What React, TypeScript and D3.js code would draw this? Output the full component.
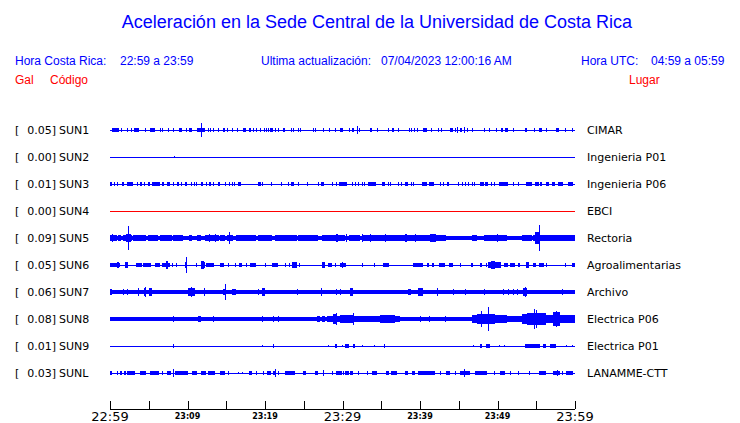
import React from "react";
import * as d3 from "d3";

const W = 740;
const H = 423;

const codes = ["SUN1", "SUN2", "SUN3", "SUN4", "SUN5", "SUN6", "SUN7", "SUN8", "SUN9", "SUNL"];
const peaks = ["0.05", "0.00", "0.01", "0.00", "0.09", "0.05", "0.06", "0.08", "0.01", "0.03"];
const places = ["CIMAR", "Ingenieria P01", "Ingenieria P06", "EBCI", "Rectoria", "Agroalimentarias", "Archivo", "Electrica P06", "Electrica P01", "LANAMME-CTT"];
const traceColors = ["#0000ff", "#0000ff", "#0000ff", "#ff0000", "#0000ff", "#0000ff", "#0000ff", "#0000ff", "#0000ff", "#0000ff"];
// steady background amplitude of each trace (Gal)
const baseLevels = [0, 0, 0, 0, 0.013, 0, 0.013, 0.012, 0, 0];

// bursts: [start minute, end minute, amplitude Gal], minutes after 22:59
const sun1: number[][] = [[0.3,1.1,.011],[1.4,1.4,.008],[2.15,2.15,.008],[2.65,2.65,.008],[3.05,3.8,.011],[4.5,4.5,.008],[5.15,5.8,.012],[6.45,6.45,.008],[6.75,6.75,.008],[7.5,7.5,.008],[8.1,8.1,.008],[8.9,9.25,.011],[9.8,9.8,.008],[10.25,10.55,.011],[11.2,11.2,.008],[11.4,12.25,.013],[11.8,11.8,.049],[12.6,12.6,.008],[12.95,12.95,.008],[13.35,13.35,.008],[13.95,13.95,.01],[14.6,14.85,.01],[15.05,15.05,.008],[15.8,15.8,.008],[16.35,16.35,.008],[17.2,17.6,.011],[17.9,18.15,.011],[18.4,18.4,.01],[18.9,18.9,.008],[19.35,19.35,.008],[19.9,19.9,.008],[20.15,20.15,.008],[20.4,20.4,.015],[20.7,21,.011],[21.3,21.3,.008],[21.7,21.7,.008],[22.35,22.6,.011],[23.3,23.3,.008],[23.55,23.55,.008],[24.2,24.2,.008],[24.5,24.5,.01],[26.2,26.2,.008],[26.5,26.5,.01],[27.5,27.5,.011],[28.3,28.3,.008],[29,29.2,.01],[29.7,30.1,.011],[30.9,30.9,.008],[31.2,31.5,.011],[31.85,31.85,.025],[32.15,32.15,.01],[33.55,33.85,.011],[34.5,34.5,.008],[35.9,35.9,.008],[36.45,36.7,.011],[37.2,37.2,.008],[38.6,38.6,.008],[38.9,38.9,.01],[39.25,39.25,.008],[39.65,39.65,.01],[40.45,40.95,.011],[41.4,41.6,.011],[42.35,42.35,.008],[42.7,42.7,.01],[43.9,44.2,.011],[44.55,44.55,.008],[44.8,44.8,.02],[45.15,45.4,.011],[45.7,45.7,.018],[46,46,.008],[46.65,46.65,.01],[48.3,48.3,.01],[48.9,48.9,.01],[49.75,49.75,.008],[50.5,50.75,.011],[50.95,51.3,.015],[51.95,51.95,.008],[53.55,53.85,.011],[54.75,54.75,.008],[55.35,55.7,.011],[56.2,56.4,.011],[57.6,57.9,.01],[58.75,58.75,.008],[59.65,59.65,.008]];
const sun2: number[][] = [[8.2,8.2,.006]];
const sun3: number[][] = [[0,0.3,.01],[0.55,0.55,.008],[0.85,0.85,.008],[1.6,1.85,.01],[2.15,3,.01],[3.5,3.5,.008],[3.9,4.1,.01],[4.4,4.4,.008],[4.85,5.15,.01],[5.45,6.45,.01],[6.65,7,.01],[7.3,7.7,.01],[8.1,8.1,.008],[8.6,8.9,.01],[9.2,9.2,.008],[9.7,9.9,.01],[10.45,10.45,.008],[10.8,10.8,.008],[11.05,11.05,.008],[11.7,12.05,.01],[12.45,12.45,.008],[12.8,13,.01],[13.3,13.3,.008],[13.9,14.2,.01],[14.8,14.8,.008],[15.4,15.4,.008],[15.7,15.7,.008],[16,16,.008],[16.5,16.85,.01],[19.1,19.5,.01],[19.65,19.65,.008],[20.75,20.75,.008],[22.1,22.1,.008],[23,23,.008],[23.4,23.7,.01],[24.3,24.3,.008],[25.4,25.4,.008],[26.9,26.9,.008],[27.2,27.6,.01],[28.6,28.6,.008],[29.1,29.1,.008],[29.6,30.6,.01],[31.2,31.2,.008],[31.6,31.6,.008],[32,32,.008],[32.5,32.5,.008],[32.8,32.8,.008],[33.3,34.3,.01],[35.1,35.5,.01],[35.9,35.9,.008],[36.1,36.1,.008],[37.2,37.2,.008],[37.6,37.6,.008],[38.1,38.5,.01],[38.8,38.8,.008],[39.1,39.1,.008],[40.2,40.9,.01],[41.15,41.85,.01],[42.6,42.6,.008],[43,43,.008],[43.5,43.8,.01],[44.9,44.9,.008],[45.4,45.4,.008],[45.8,45.8,.008],[46.2,46.2,.008],[46.7,46.7,.008],[47,47,.008],[47.7,48.2,.01],[48.4,48.8,.01],[49.2,49.2,.008],[49.5,49.5,.008],[50.2,51.4,.01],[52,52,.008],[52.7,52.7,.008],[53.7,54.4,.01],[54.8,55.3,.01],[55.5,55.8,.01],[56.3,56.6,.01],[57,57.4,.01],[57.8,58.5,.01],[59.1,59.8,.01]];
const sun4: number[][] = [];
const sun5: number[][] = [[0,0.85,.02],[0.3,0.3,.03],[1.05,1.4,.018],[1.7,2.8,.022],[2,2.7,.03],[2.35,2.35,.085],[3,4.7,.018],[4.95,6.25,.018],[6.45,7.95,.018],[8.15,9.45,.018],[10.2,10.6,.018],[11.2,11.8,.02],[12.25,14,.02],[12.8,12.8,.025],[13.5,13.5,.025],[14.2,14.8,.018],[15.05,15.9,.02],[15.4,15.4,.045],[16.3,18.9,.018],[19.1,20.85,.018],[21.3,24.1,.02],[24.3,26.9,.018],[27.3,30.3,.02],[29.1,29.4,.024],[30.5,30.5,.025],[30.8,32.3,.02],[32.5,32.5,.025],[32.7,36.1,.018],[33.55,33.55,.024],[35.5,35.5,.024],[36.1,38.3,.02],[38.1,38.3,.025],[38.3,43.4,.02],[39.4,39.4,.025],[41.3,42,.026],[46.7,47.3,.02],[48.2,51.2,.02],[49.9,49.9,.024],[53.1,54.4,.016],[54.6,55.9,.022],[54.8,55.5,.04],[55.3,55.3,.095],[55.9,60,.02]];
const sun6: number[][] = [[0,1.3,.013],[0.9,1.1,.018],[1.9,2.35,.016],[2.15,2.15,.02],[3.4,4.1,.012],[4.3,5.3,.012],[5.8,6.45,.012],[6.65,7.7,.014],[7.2,7.5,.025],[7.95,7.95,.008],[8.5,8.5,.01],[9.65,9.9,.02],[9.75,9.75,.054],[11.05,11.05,.01],[11.7,12.25,.02],[11.8,12.1,.025],[12.45,13.45,.013],[14.2,14.7,.012],[15.2,15.2,.008],[16.1,16.3,.01],[16.7,17,.012],[17.6,17.6,.01],[18.1,18.8,.012],[20,20,.008],[20.85,21.7,.013],[22.6,22.6,.01],[23.1,23.1,.01],[23.5,24.1,.016],[23.75,23.75,.022],[24.4,24.4,.01],[27.3,27.8,.016],[27.5,27.5,.02],[28.1,28.6,.012],[29,29,.01],[29.65,30.5,.014],[29.9,29.9,.02],[32.5,32.5,.01],[34,34,.01],[35.2,36,.012],[39.1,40.4,.012],[40.9,41.1,.012],[41.5,41.8,.012],[42.4,43.2,.014],[43.7,44.3,.012],[45.2,45.2,.008],[46.6,46.8,.01],[47.7,48,.012],[48.5,48.7,.012],[48.8,50.5,.016],[49.2,49.7,.025],[50.9,51.4,.012],[51.6,52.3,.012],[52.7,52.9,.01],[53.7,54,.016],[54.6,55,.012],[55.3,56,.013],[56.3,56.3,.014],[58.7,58.9,.01],[59.6,60,.014]];
const sun7: number[][] = [[0,0.2,.018],[1.7,1.7,.016],[2.25,2.25,.016],[3.65,3.65,.03],[4.4,4.7,.025],[4.55,4.55,.033],[5,5.4,.03],[10.1,10.95,.025],[10.4,10.4,.033],[12.1,12.25,.025],[14.6,15,.02],[14.8,14.8,.055],[15.7,16.3,.02],[19.05,19.05,.018],[19.55,20,.024],[21.7,21.7,.015],[24.15,24.15,.022],[27.2,27.2,.025],[29.1,29.1,.016],[29.7,29.7,.016],[31,31.3,.026],[38.5,38.8,.02],[39.8,40.4,.026],[42.2,42.2,.024],[44.3,44.3,.018],[45.8,45.8,.018],[48.3,48.3,.016],[50.7,50.7,.016],[51.4,51.4,.022],[52,52,.018],[52.5,52.5,.02],[53.3,53.8,.028],[53.55,53.55,.035],[58.3,58.3,.022]];
const sun8: number[][] = [[8.15,8.15,.018],[11.3,11.7,.016],[13.3,13.3,.016],[19.55,19.55,.018],[21.05,21.05,.02],[21.7,21.7,.016],[26.65,27.1,.02],[27.3,27.8,.016],[27.95,30.3,.022],[28.8,29.3,.035],[29.1,29.1,.042],[29.7,31.4,.025],[30.5,30.5,.028],[31.4,31.4,.04],[31.4,37.4,.017],[32.2,32.9,.02],[34,34.4,.022],[34.8,36.8,.024],[40,40,.016],[41.2,41.2,.016],[43.2,43.2,.016],[46.7,47.3,.025],[47.3,49.7,.035],[49.7,51.2,.026],[47.9,47.9,.06],[48.8,48.8,.085],[51.2,53.1,.018],[53.1,53.8,.035],[53.8,56.3,.045],[54.7,54.7,.075],[55,55,.065],[56.3,57.2,.03],[57.2,58.1,.05],[57.6,57.6,.06],[58.1,60,.025]];
const sun9: number[][] = [[8.15,8.15,.012],[19.55,19.55,.006],[21.05,21.05,.008],[28.1,28.1,.006],[29,29.3,.01],[29.9,29.9,.006],[30.3,30.8,.008],[31.4,31.6,.01],[32.5,32.5,.006],[34,34,.006],[35.3,35.3,.008],[46.9,46.9,.006],[47.7,48,.008],[48.5,49,.008],[50.2,50.2,.006],[50.8,50.8,.006],[53.55,55.5,.008],[55.9,56.3,.008],[56.8,57.6,.008],[58.9,58.9,.006],[59.65,59.65,.006]];
const sunL: number[][] = [[0,0.2,.01],[0.85,0.85,.008],[1.3,1.5,.01],[1.85,2,.01],[2.25,3.2,.01],[3.9,4.7,.01],[5.15,6.3,.01],[6.65,6.65,.008],[7.3,7.85,.01],[8.15,8.15,.03],[8.4,10.1,.012],[10.6,11.2,.01],[11.7,12.45,.01],[12.7,13.55,.01],[14.2,14.9,.01],[15.25,15.25,.008],[16.55,16.55,.006],[17,17,.006],[17.9,18.3,.01],[18.9,18.9,.008],[19.8,19.8,.008],[20.2,20.75,.01],[21.05,21.35,.01],[21.35,21.35,.025],[21.7,21.7,.008],[22.6,23.9,.01],[24.9,25.35,.01],[26.5,26.85,.01],[27.5,27.5,.02],[28.6,28.6,.008],[29.2,29.9,.01],[30.1,30.1,.008],[30.3,30.8,.01],[31,31.4,.01],[32,32,.008],[33.1,33.1,.008],[33.8,34.4,.01],[35.6,36,.014],[36.3,37,.01],[38.1,38.5,.01],[39,39.4,.01],[39.7,41.9,.012],[42.6,42.6,.008],[43.4,43.9,.01],[44.5,44.5,.008],[45.2,46.4,.01],[45.7,45.7,.03],[47.1,48.6,.01],[49.5,49.5,.008],[50.3,51,.01],[51.6,51.6,.008],[52.7,52.7,.008],[54,54,.008],[55.3,56.3,.01],[57.2,58.1,.01],[57.7,57.7,.016],[58.3,58.5,.01],[58.9,59.8,.01]];
const traceEvents = [sun1, sun2, sun3, sun4, sun5, sun6, sun7, sun8, sun9, sunL];

const tickMinutes = [0, 5, 10, 15, 20, 25, 30, 35, 40, 45, 50, 55, 60];
const labelMinutes = [0, 10, 20, 30, 40, 50, 60];
const labelTexts = ["22:59", "23:09", "23:19", "23:29", "23:39", "23:49", "23:59"];
const bigLabels = [0, 30, 60];

const x = d3.scaleLinear().domain([0, 60]).range([110, 575]);
const yRow = d3.scalePoint<string>().domain(codes).range([130, 373]);
const amp = d3.scaleLinear().domain([0, 0.1]).range([0, 13]);

// half a pixel of pen width is added around every excursion
function band(t0: number, t1: number, a: number, yc: number) {
  const x0 = Math.round(x(t0));
  const x1 = Math.max(x0 + 1, Math.round(x(t1)));
  const half = amp(a) + 0.5;
  const y0 = Math.round(yc - half);
  const y1 = Math.max(y0 + 1, Math.round(yc + half));
  return { x: x0, y: y0, width: x1 - x0, height: y1 - y0 };
}

const SANS = "'Liberation Sans', Arial, sans-serif";
const DJ = "'DejaVu Sans', sans-serif";

export default function App() {
  return (
    <svg width={W} height={H} viewBox={`0 0 ${W} ${H}`}
      style={{ position: "absolute", left: 0, top: 0, display: "block", background: "#fff" }}>
      <rect x={0} y={0} width={W} height={H} fill="#fff" />
      <text x={377} y={28} textAnchor="middle" fontFamily={SANS} fontSize={18} fill="#0000ff">
        Aceleración en la Sede Central de la Universidad de Costa Rica
      </text>
      <g fontFamily={SANS} fontSize={12} fill="#0000ff">
        <text x={15} y={65}>Hora Costa Rica:</text>
        <text x={120} y={65}>22:59 a 23:59</text>
        <text x={261} y={65}>Ultima actualización:</text>
        <text x={381} y={65}>07/04/2023 12:00:16 AM</text>
        <text x={581} y={65}>Hora UTC:</text>
        <text x={651} y={65}>04:59 a 05:59</text>
      </g>
      <g fontFamily={SANS} fontSize={12} fill="#ff0000">
        <text x={15} y={84}>Gal</text>
        <text x={50} y={84}>Código</text>
        <text x={629} y={84}>Lugar</text>
      </g>

      {codes.map((c, i) => {
        const yc = yRow(c) as number;
        const base = band(0, 60, baseLevels[i], yc);
        return (
          <g key={c}>
            <g fontFamily={DJ} fontSize={11} fill="#000">
              <text x={15} y={yc + 4}>[</text>
              <text x={56} y={yc + 4} textAnchor="end">{peaks[i] + "]"}</text>
              <text x={59} y={yc + 4}>{c}</text>
              <text x={587} y={yc + 4}>{places[i]}</text>
            </g>
            <g fill={traceColors[i]} shapeRendering="crispEdges">
              <rect {...base} />
              {traceEvents[i].map((e, k) => (
                <rect key={k} {...band(e[0], e[1], e[2], yc)} />
              ))}
            </g>
          </g>
        );
      })}

      <g shapeRendering="crispEdges" stroke="#000" strokeWidth={1}>
        <line x1={x(0)} x2={x(60)} y1={409.5} y2={409.5} />
        {tickMinutes.map((m) => (
          <line key={m} x1={Math.round(x(m)) + 0.5} x2={Math.round(x(m)) + 0.5} y1={401} y2={409} />
        ))}
      </g>
      <g fontFamily={DJ} fill="#000" textAnchor="middle">
        {labelMinutes.map((m, i) =>
          bigLabels.includes(m) ? (
            <text key={m} x={x(m)} y={421} fontSize={13}>{labelTexts[i]}</text>
          ) : (
            <text key={m} x={x(m)} y={418.5} fontSize={8} fontWeight="bold">{labelTexts[i]}</text>
          )
        )}
      </g>
    </svg>
  );
}
